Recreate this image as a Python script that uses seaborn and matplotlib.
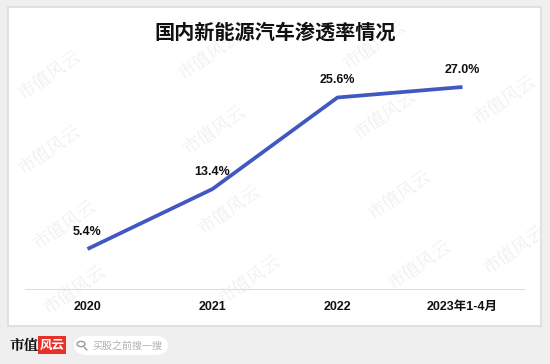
import matplotlib
matplotlib.use("Agg")
import matplotlib.pyplot as plt
import seaborn as sns
import pandas as pd
from matplotlib.patches import FancyBboxPatch, Circle
from matplotlib.lines import Line2D

# ---- data ----
categories = ["2020", "2021", "2022", "2023年1-4月"]
penetration = [5.4, 13.4, 25.6, 27.0]
value_labels = ["5.4%", "13.4%", "25.6%", "27.0%"]
title = "国内新能源汽车渗透率情况"

df = pd.DataFrame({"pos": range(len(categories)), "val": penetration})

sns.set_theme(style="white")
plt.rcParams['font.family'] = ['Liberation Sans', 'Noto Sans CJK SC', 'DejaVu Sans']

W, H = 550, 364
fig = plt.figure(figsize=(W / 100, H / 100), dpi=100)
fig.patch.set_facecolor("#efefef")

def fx(px):
    return px / W

def fy(py):
    return 1 - py / H

# white panel
panel = FancyBboxPatch((fx(8), fy(326)), fx(533), 319 / H,
                       boxstyle="square,pad=0", transform=fig.transFigure,
                       facecolor="white", edgecolor="#dcdcdc", linewidth=1.2,
                       zorder=0)
fig.patches.append(panel)

# watermarks
wm_positions = [(50, 75), (210, 55), (375, 45),
                (50, 150), (215, 130), (385, 115), (505, 100),
                (65, 225), (230, 210), (400, 195),
                (75, 290), (250, 280), (420, 265), (515, 250)]
for (px, py) in wm_positions:
    fig.text(fx(px), fy(py), "市值风云", fontsize=13, color="#f0f0f0",
             rotation=35, ha="center", va="center",
             family=['Noto Serif CJK SC', 'Noto Sans CJK SC'], zorder=1)

# main axes
ax = fig.add_axes([fx(25), 1 - 289.5 / H, fx(500), 225 / H])
ax.set_zorder(3)
ax.patch.set_alpha(0)
sns.lineplot(data=df, x="pos", y="val", ax=ax, color="#4158c2",
             linewidth=2.7, solid_capstyle="butt", zorder=3)
ax.set_xlim(-0.5, 3.5)
ax.set_ylim(0, 30)
for s in ax.spines.values():
    s.set_visible(False)
ax.axhline(0, color="#d9d9d9", linewidth=1.3, zorder=1)
ax.set_xticks(range(len(categories)))
ax.set_xticklabels(categories, fontsize=9, fontweight="bold", color="#111111")
ax.tick_params(axis="x", length=0, pad=8)
ax.set_yticks([])
ax.set_xlabel("")
ax.set_ylabel("")
for i, (v, lab) in enumerate(zip(penetration, value_labels)):
    ax.annotate(lab, (i, v), xytext=(0, 12.5), textcoords="offset points",
                ha="center", va="center", fontsize=9, fontweight="bold",
                color="#111111")

# title
fig.text(0.5, fy(32), title, ha="center", va="center", fontsize=14.5,
         family=['Noto Sans CJK SC'], fontweight="bold", color="#111111",
         zorder=4)

# footer logo
fig.text(fx(10), fy(346), "市值", ha="left", va="center", fontsize=10.5,
         fontweight="bold", family=['Noto Serif CJK SC', 'Noto Sans CJK SC'],
         color="#111111", zorder=4)
logo = FancyBboxPatch((fx(38), fy(354)), fx(28), 18 / H,
                      boxstyle="square,pad=0", transform=fig.transFigure,
                      facecolor="#e8302a", edgecolor="none", zorder=4)
fig.patches.append(logo)
fig.text(fx(52), fy(345.5), "风云", ha="center", va="center", fontsize=9,
         fontweight="bold", style="italic", family=['Noto Sans CJK SC'],
         color="white", zorder=5)
pill = FancyBboxPatch((fx(73), fy(355)), fx(96), 19 / H,
                      boxstyle="round,pad=0,rounding_size=0.025",
                      transform=fig.transFigure, mutation_aspect=W / H,
                      facecolor="white", edgecolor="none", zorder=4)
fig.patches.append(pill)
fig.patches.append(Circle((fx(81), fy(344)), fx(4), transform=fig.transFigure,
                          facecolor="none", edgecolor="#9a9a9a", linewidth=1.0,
                          zorder=5))
fig.lines.append(Line2D([fx(84), fx(87)], [fy(347), fy(350)],
                        transform=fig.transFigure, color="#9a9a9a", linewidth=1.0,
                        zorder=5))
fig.text(fx(92), fy(345.5), "买股之前搜一搜", ha="left", va="center",
         fontsize=7.2, family=['Noto Sans CJK SC'], color="#b0b0b0", zorder=5)

fig.savefig("out.png", dpi=100, facecolor=fig.get_facecolor())
